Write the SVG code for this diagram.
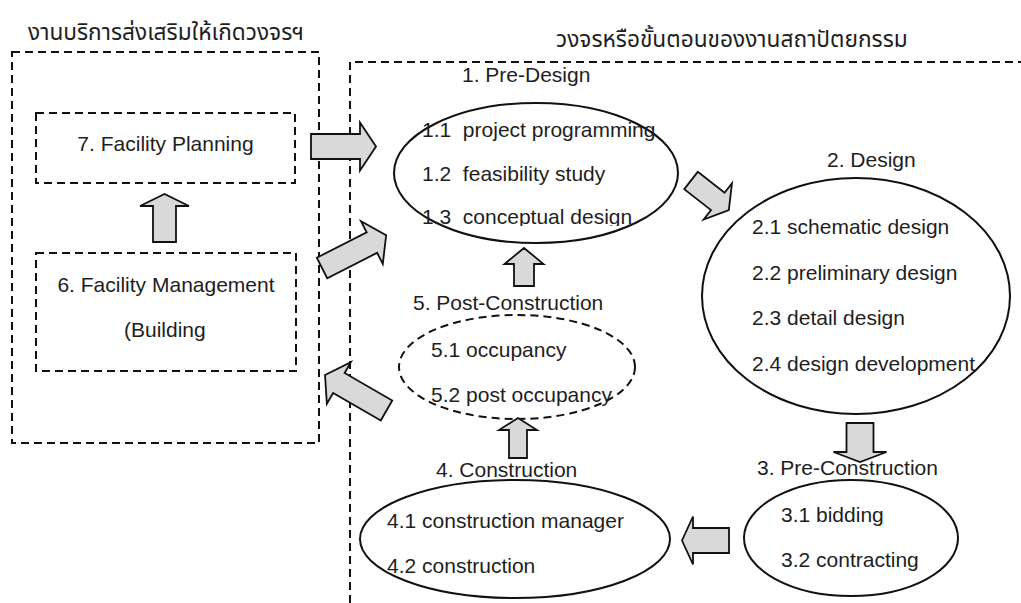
<svg xmlns="http://www.w3.org/2000/svg" width="1021" height="603" viewBox="0 0 1021 603">
<style>
.t{font-family:"Liberation Sans",Arial,sans-serif;font-size:21px;fill:#1e1e1e}
.th{font-family:"Noto Sans Thai","Noto Sans","DejaVu Sans",sans-serif;font-size:22.7px;fill:#1e1e1e}
.dash{fill:none;stroke:#111;stroke-width:2;stroke-dasharray:8 5}
.ell{fill:none;stroke:#111;stroke-width:2}
.arr{fill:#d9d9d9;stroke:#111;stroke-width:1.8;stroke-linejoin:miter}
</style>
<defs>
<clipPath id="clip1"><rect x="390" y="100" width="300" height="126"/></clipPath>
</defs>
<rect width="1021" height="603" fill="#fff"/>
<text class="th" x="28" y="40">งานบริการส่งเสริมให้เกิดวงจรฯ</text>
<text class="th" x="556" y="47">วงจรหรือขั้นตอนของงานสถาปัตยกรรม</text>
<g id="support-frame"><rect class="dash" x="12" y="52" width="307" height="391"/></g>
<g id="cycle-frame"><path class="dash" d="M350,603 V62 H1021"/></g>
<g id="node7"><rect class="dash" x="36" y="113" width="259" height="70"/><text class="t" x="165.5" y="151" text-anchor="middle">7. Facility Planning</text></g>
<g id="node6"><rect class="dash" x="36" y="253" width="260" height="118"/><text class="t" x="166" y="292" text-anchor="middle">6. Facility Management</text><text class="t" x="124" y="337">(Building</text></g>
<g id="node1"><text class="t" x="462" y="82">1. Pre-Design</text><ellipse class="ell" cx="536" cy="173" rx="142" ry="70"/><text class="t" x="422" y="137" xml:space="preserve">1.1  project programming</text><text class="t" x="422" y="181" xml:space="preserve">1.2  feasibility study</text><text class="t" x="422" y="224" clip-path="url(#clip1)" xml:space="preserve">1.3  conceptual design</text></g>
<g id="node2"><text class="t" x="827" y="167">2. Design</text><ellipse class="ell" cx="856" cy="296" rx="154" ry="118"/><text class="t" x="752" y="234">2.1 schematic design</text><text class="t" x="752" y="280">2.2 preliminary design</text><text class="t" x="752" y="325">2.3 detail design</text><text class="t" x="752" y="371">2.4 design development</text></g>
<g id="node3"><text class="t" x="757" y="475">3. Pre-Construction</text><ellipse class="ell" cx="851" cy="538" rx="107" ry="58"/><text class="t" x="781" y="522">3.1 bidding</text><text class="t" x="781" y="567">3.2 contracting</text></g>
<g id="node4"><text class="t" x="436" y="477">4. Construction</text><ellipse class="ell" cx="515" cy="539" rx="155" ry="59"/><text class="t" x="387" y="528">4.1 construction manager</text><text class="t" x="387" y="573">4.2 construction</text></g>
<g id="node5"><text class="t" x="413" y="310">5. Post-Construction</text><ellipse class="dash" cx="517" cy="367" rx="118" ry="52"/><text class="t" x="431" y="357">5.1 occupancy</text><text class="t" x="431" y="402">5.2 post occupancy</text></g>
<g id="connectors">
<polygon class="arr" transform="translate(311,146.5)" points="0,-12.5 49,-12.5 49,-24 65,0 49,24 49,12.5 0,12.5"/>
<polygon class="arr" transform="translate(322,268) rotate(-27)" points="0,-11.5 56,-11.5 56,-24 72,0 56,24 56,11.5 0,11.5"/>
<polygon class="arr" transform="translate(386.5,410.5) rotate(-150)" points="0,-11.5 55,-11.5 55,-24 71,0 55,24 55,11.5 0,11.5"/>
<polygon class="arr" transform="translate(164.5,242) rotate(-90)" points="0,-11.5 36,-11.5 36,-24.5 48,0 36,24.5 36,11.5 0,11.5"/>
<polygon class="arr" transform="translate(691,180.5) rotate(38)" points="0,-11 34,-11 34,-23 48,0 34,23 34,11 0,11"/>
<polygon class="arr" transform="translate(860,423) rotate(90)" points="0,-13.5 29,-13.5 29,-26.5 39,0 29,26.5 29,13.5 0,13.5"/>
<polygon class="arr" transform="translate(729,540.5) rotate(180)" points="0,-12.5 36,-12.5 36,-24 47,0 36,24 36,12.5 0,12.5"/>
<polygon class="arr" transform="translate(518,458) rotate(-90)" points="0,-9 28,-9 28,-19 40,0 28,19 28,9 0,9"/>
<polygon class="arr" transform="translate(524,286) rotate(-90)" points="0,-10 22,-10 22,-19.5 38,0 22,19.5 22,10 0,10"/>
</g>
</svg>
